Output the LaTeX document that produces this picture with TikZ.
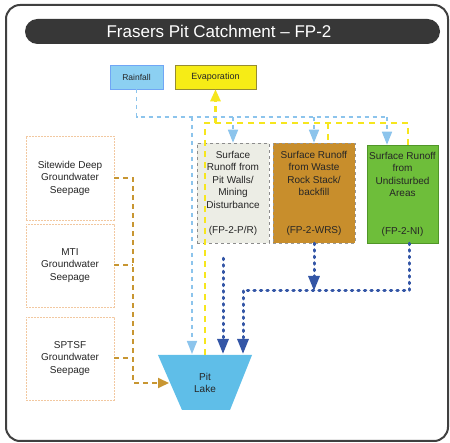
\documentclass[tikz,border=0pt]{standalone}
\usepackage{fontspec}
\setmainfont{Liberation Sans}
\usetikzlibrary{arrows.meta}
\definecolor{titlegray}{RGB}{55,55,55}
\definecolor{rainblue}{RGB}{140,208,242}
\definecolor{evapyellow}{RGB}{246,236,22}
\definecolor{evapborder}{RGB}{150,140,50}
\definecolor{prfill}{RGB}{236,237,229}
\definecolor{wrsfill}{RGB}{200,142,44}
\definecolor{nifill}{RGB}{110,190,58}
\definecolor{niborder}{RGB}{80,150,40}
\definecolor{lakeblue}{RGB}{95,190,232}
\definecolor{lbcol}{RGB}{140,196,236}
\definecolor{ycol}{RGB}{246,230,30}
\definecolor{dbcol}{RGB}{52,86,166}
\definecolor{ocol}{RGB}{200,150,50}
\definecolor{peach}{RGB}{242,200,160}
\begin{document}
\begin{tikzpicture}[x=1pt,y=-1pt,
  txt/.style={font=\fontsize{10}{12.5}\selectfont, align=center, text=black!85},
  box/.style={txt, rectangle, inner sep=0pt},
  srcbox/.style={box, draw=peach, line width=0.8pt, dash pattern=on 2pt off 1pt, fill=white, minimum width=88pt},
  lbline/.style={draw=lbcol, line width=1.5pt, dash pattern=on 4pt off 4pt},
  lbarrow/.style={-{Triangle[width=10pt,length=13pt]}},
  yline/.style={draw=ycol, line width=2.5pt, dash pattern=on 6pt off 5pt},
  yarrow/.style={-{Triangle[width=10pt,length=12pt]}},
  dbline/.style={draw=dbcol, line width=3pt, line cap=round, dash pattern=on 1.5pt off 5pt},
  dbarrow/.style={-{Triangle[width=11pt,length=15pt,line cap=butt]}},
  oline/.style={draw=ocol, line width=2pt, dash pattern=on 5pt off 4pt},
  oarrow/.style={-{Triangle[width=10pt,length=11pt]}},
]
\useasboundingbox (0,0) rectangle (450,443);
% frame
\draw[line width=2pt, draw=black!75, rounded corners=14pt] (6,5) rectangle (448,441);
% title
\node[fill=titlegray, rounded corners=12.5pt, minimum width=415pt, minimum height=25pt, inner sep=0pt] (titlebar) at (232.5,31.5) {};
\node[text=white, font=\fontsize{17}{20}\selectfont, inner sep=0pt] (titletext) at (219,31.5) {Frasers Pit Catchment – FP-2};
% top boxes
\node[box, fill=rainblue, draw=rainblue!80!blue, line width=0.4pt, minimum width=53pt, minimum height=24pt, font=\fontsize{8.5}{10}\selectfont] (rain) at (136.5,77) {Rainfall};
\node[box, fill=evapyellow, draw=evapborder, line width=0.6pt, minimum width=81pt, minimum height=24pt, font=\fontsize{9}{10}\selectfont] (evap) at (215.5,77) {Evaporation};
% runoff boxes
\node[box, fill=prfill, draw=black!45, line width=0.5pt, dashed, minimum width=72pt, minimum height=100pt] (pr) at (233,193) {Surface\\Runoff from\\Pit Walls/\\Mining\\Disturbance\\[12.5pt](FP-2-P/R)};
\node[box, fill=wrsfill, draw=black!40, line width=0.5pt, dashed, minimum width=82pt, minimum height=100pt] (wrs) at (314,193) {Surface Runoff\\from Waste\\Rock Stack/\\backfill\\[25pt](FP-2-WRS)};
\node[box, fill=nifill, draw=niborder, line width=0.5pt, minimum width=71pt, minimum height=98pt] (ni) at (402.5,194) {Surface Runoff\\from\\Undisturbed\\Areas\\[25pt](FP-2-NI)};
% groundwater boxes
\node[srcbox, minimum height=84pt] (site) at (70,178) {Sitewide Deep\\Groundwater\\Seepage};
\node[srcbox, minimum height=83pt] (mti) at (70,265.5) {MTI\\Groundwater\\Seepage};
\node[srcbox, minimum height=83pt] (spt) at (70,358.5) {SPTSF\\Groundwater\\Seepage};
% pit lake
\fill[lakeblue] (158,355) -- (252,355) -- (230,410) -- (182,410) -- cycle;
\node[txt, inner sep=0pt] (lake) at (205,383) {Pit\\Lake};
% coordinates
\coordinate (bl1) at (192,117);
\coordinate (bl4) at (387,117);
\coordinate (lk1) at (192,354);
\coordinate (y1) at (205,123);
\coordinate (y2) at (408,123);
\coordinate (y3) at (328,123);
\coordinate (lk2) at (205,355);
\coordinate (lk3) at (223,354);
\coordinate (d1) at (243,291);
\coordinate (d2) at (409,291);
\coordinate (lk4) at (243,354);
\coordinate (o2) at (133,383);
\coordinate (lk5) at (169,383);
% yellow evaporation path
\draw[yline] (lk2) -- (y1) -- (y2) -- (y2 |- ni.north);
\draw[yline] (y3) -- (y3 |- wrs.north);
\draw[yline, yarrow] (evap.south |- y1) -- (evap.south);
% blue rainfall path
\draw[lbline] (rain.south) |- (bl4);
\draw[lbline, lbarrow] (bl1) -- (lk1);
\draw[lbline, lbarrow] (pr.north |- bl4) -- (pr.north);
\draw[lbline, lbarrow] (wrs.north |- bl4) -- (wrs.north);
\draw[lbline, lbarrow] (bl4) -- (bl4 |- ni.north);
% dark blue runoff
\draw[dbline, dbarrow] ([yshift=-15pt]pr.south -| lk3) -- (lk3);
\draw[dbline, dbarrow] (wrs.south) -- (wrs.south |- d1);
\draw[dbline] (ni.south -| d2) -- (d2) -- (d1);
\draw[dbline, dbarrow] (d1) -- (lk4);
% groundwater
\draw[oline, oarrow] (site.east) -| (o2) -- (lk5);
\draw[oline] (mti.east) -- (mti.east -| o2);
\draw[oline] (spt.east) -- (spt.east -| o2);
\end{tikzpicture}
\end{document}
